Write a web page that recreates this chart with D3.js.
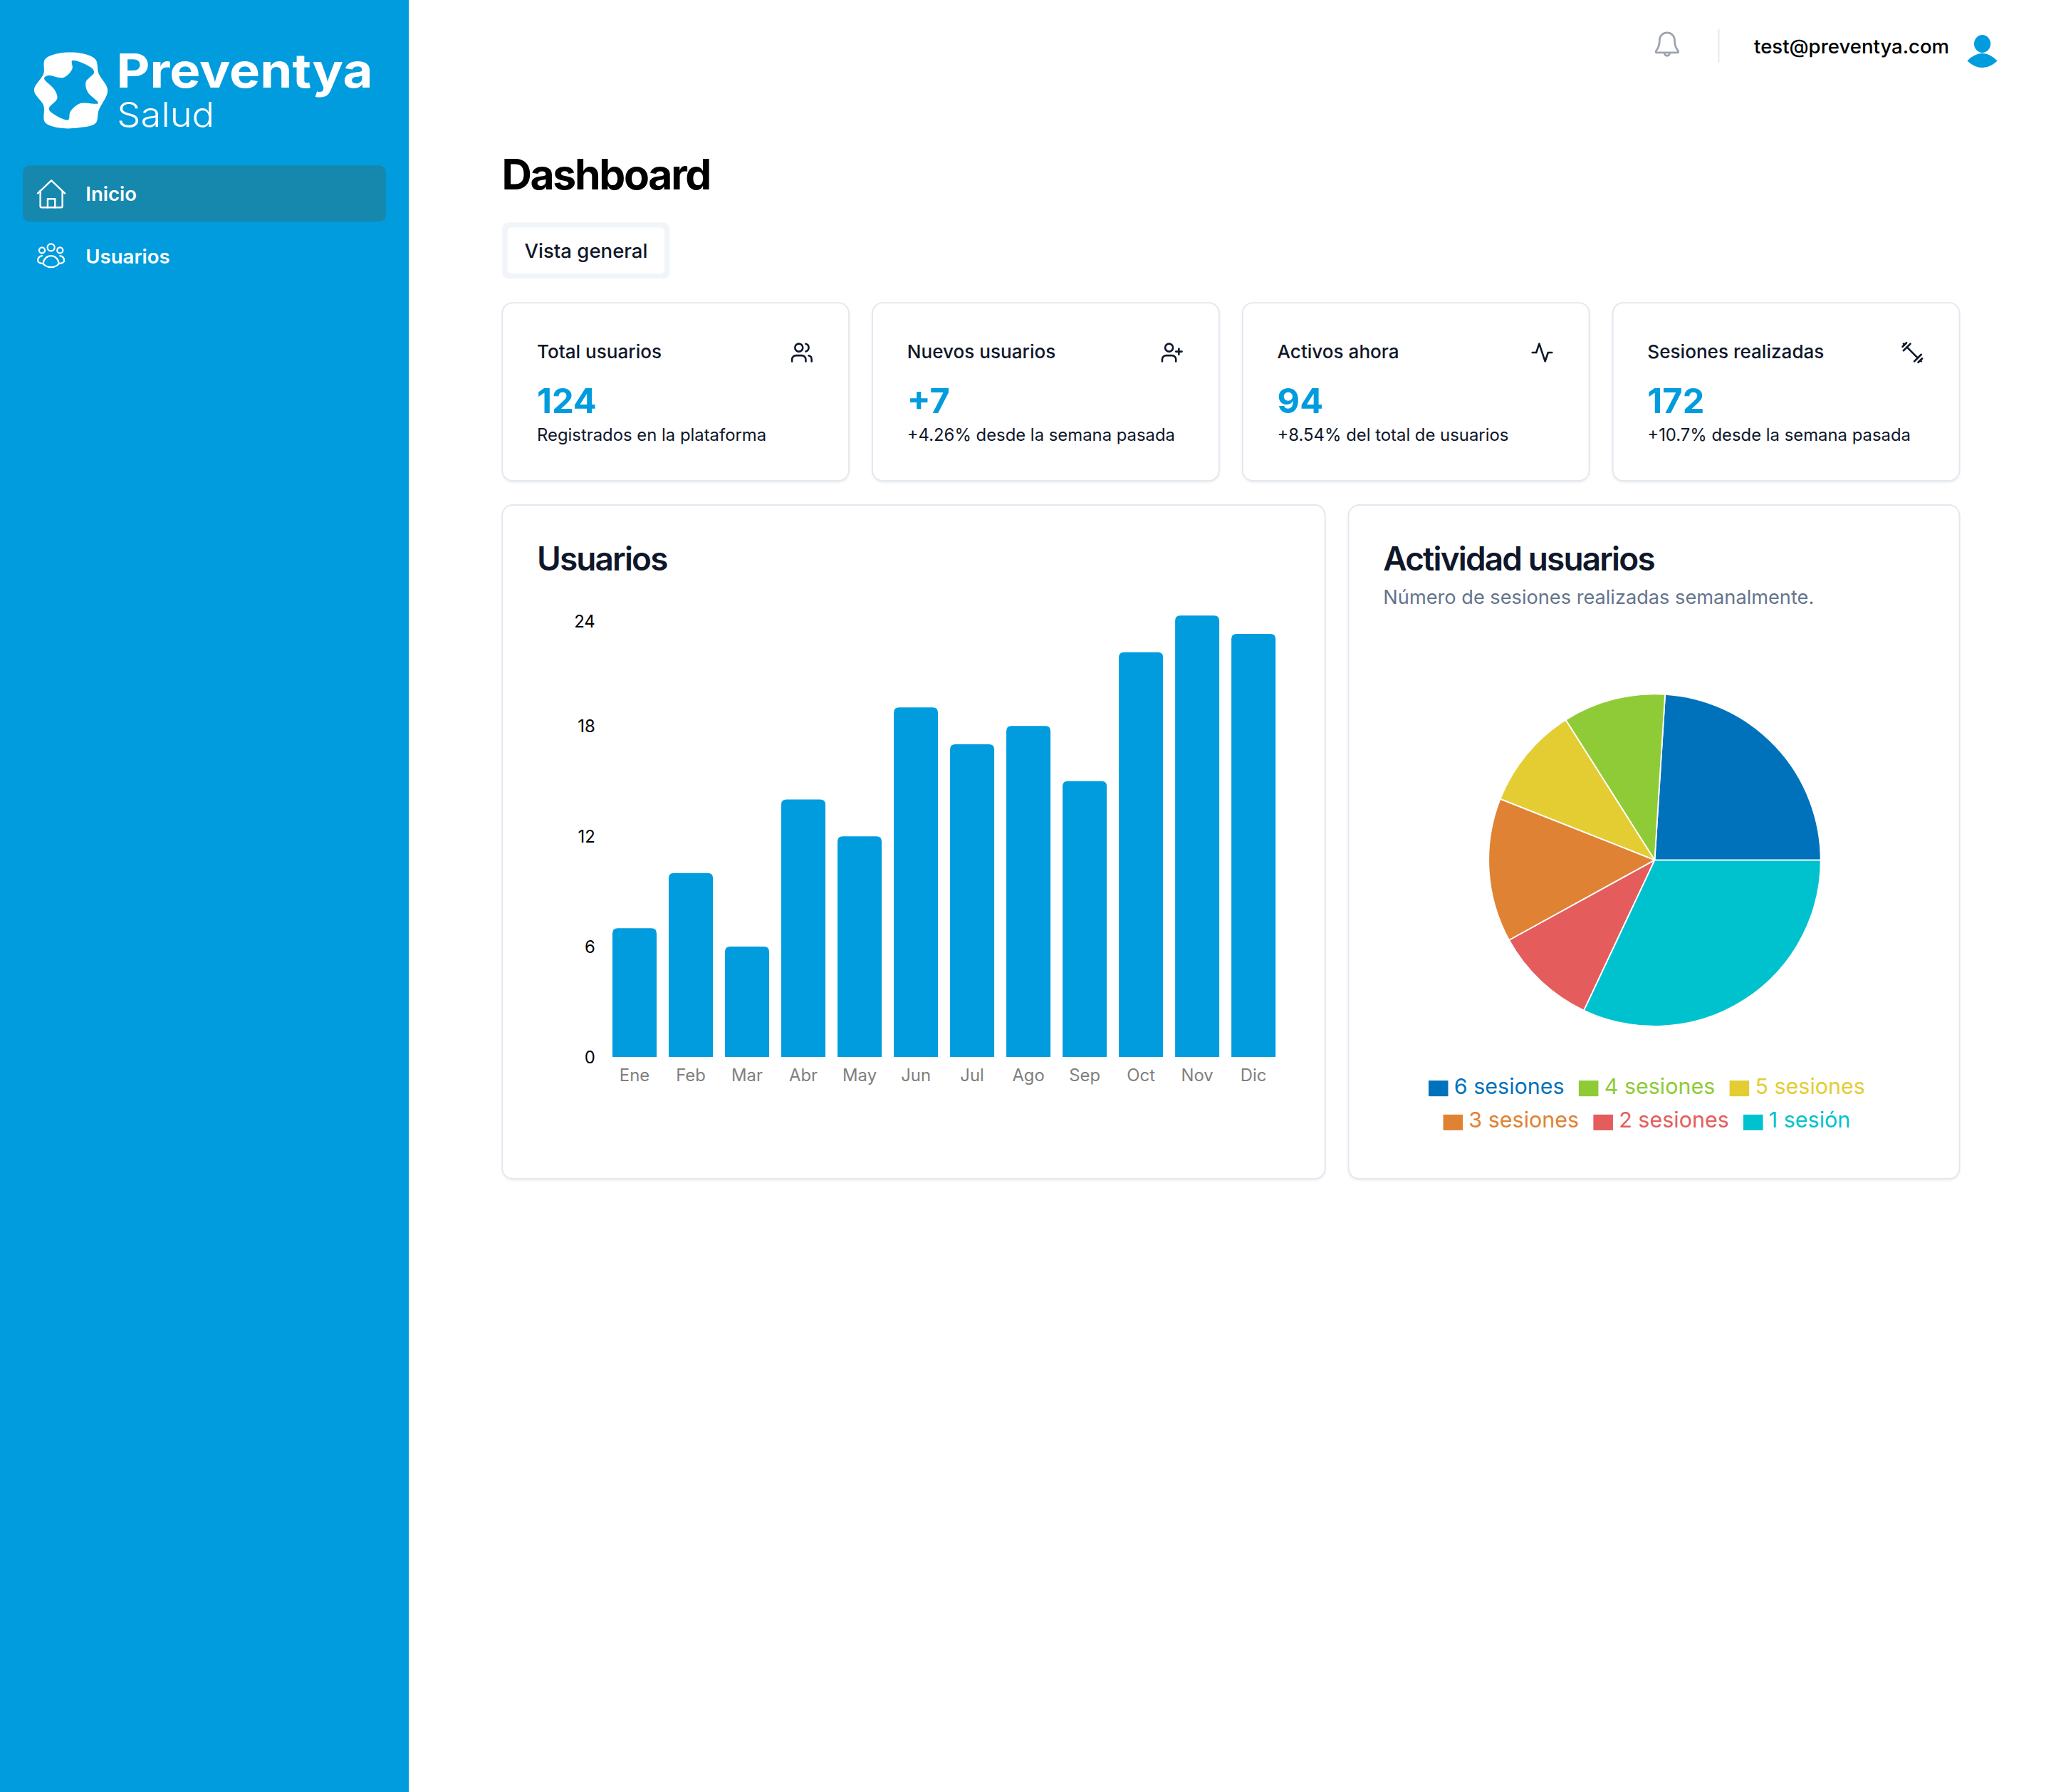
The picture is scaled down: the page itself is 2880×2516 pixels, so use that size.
<!DOCTYPE html>
<html lang="es">
<head>
<meta charset="utf-8">
<title>Preventya Salud - Dashboard</title>
<script src="https://cdn.jsdelivr.net/npm/d3@7"></script>
<style>
  html, body { margin: 0; padding: 0; background: #fff; }
  svg { display: block; }
  text { font-family: Inter, "Noto Sans", sans-serif; }
  .card { fill: #fff; stroke: #e2e8f0; stroke-width: 1; filter: drop-shadow(0 1px 1px rgba(15, 23, 42, .07)); }
  .icon { fill: none; stroke-linecap: round; stroke-linejoin: round; }
</style>
</head>
<body>
<script>
const months = ["Ene", "Feb", "Mar", "Abr", "May", "Jun", "Jul", "Ago", "Sep", "Oct", "Nov", "Dic"];
const usuarios = [7, 10, 6, 14, 12, 19, 17, 18, 15, 22, 24, 23];
const yTicks = [0, 6, 12, 18, 24];

const sesionLabels = ["6 sesiones", "4 sesiones", "5 sesiones", "3 sesiones", "2 sesiones", "1 sesión"];
const sesionValues = [12, 5, 5, 7, 5, 16];
const sesionColors = ["#0072bc", "#8fcb36", "#e3cd33", "#e08233", "#e55c5c", "#00c2ce"];

const cardTitles = ["Total usuarios", "Nuevos usuarios", "Activos ahora", "Sesiones realizadas"];
const cardValues = ["124", "+7", "94", "172"];
const cardNotes = [
  "Registrados en la plataforma",
  "+4.26% desde la semana pasada",
  "+8.54% del total de usuarios",
  "+10.7% desde la semana pasada"
];

const brand = "#009cde";
const ink = "#0f172a";

// lucide-style icons on a 24 box
const cardIcons = [
  ["M16 21v-2a4 4 0 0 0-4-4H6a4 4 0 0 0-4 4v2", "M9 3a4 4 0 1 0 0 8a4 4 0 1 0 0-8", "M22 21v-2a4 4 0 0 0-3-3.87", "M16 3.13a4 4 0 0 1 0 7.75"],
  ["M16 21v-2a4 4 0 0 0-4-4H6a4 4 0 0 0-4 4v2", "M9 3a4 4 0 1 0 0 8a4 4 0 1 0 0-8", "M19 8v6", "M22 11h-6"],
  ["M22 12h-4l-3 9L9 3l-3 9H2"],
  ["m6.5 6.5 11 11", "m21 21-1-1", "m3 3 1 1", "m18 22 4-4", "m2 6 4-4", "m3 10 7-7", "m14 21 7-7"]
];
const homeIcon = ["M1 11.5 12 1l11 10.5", "M3 9.5V22a1 1 0 0 0 1 1h16a1 1 0 0 0 1-1V9.5", "M9 23v-7h6v7"];
const groupIcon = [
  "M12 1.5a3 3 0 1 0 0 6a3 3 0 1 0 0-6",
  "M4.5 4.5a2.4 2.4 0 1 0 0 4.8a2.4 2.4 0 1 0 0-4.8",
  "M19.5 4.5a2.4 2.4 0 1 0 0 4.8a2.4 2.4 0 1 0 0-4.8",
  "M5.5 18c0-3.5 3-6.5 6.5-6.5s6.5 3 6.5 6.5c-1.5 2-4 3-6.5 3s-5-1-6.5-3z",
  "M4.5 11.5C2 12 1 13.5 1 15.5c0 1 1.5 2 4 2.5",
  "M19.5 11.5c2.5.5 3.5 2 3.5 4c0 1-1.5 2-4 2.5"
];
const bellIcon = ["M6 8a6 6 0 0 1 12 0c0 7 3 8 3 9c0 .6-.4 1-1 1H4c-.6 0-1-.4-1-1c0-1 3-2 3-9", "M10 18.5a2 2 0 0 0 4 0"];

const W = 2880, H = 2516;
const VW = 1568, VH = VW * H / W;

const svg = d3.select("body").append("svg")
  .attr("width", W).attr("height", H)
  .attr("viewBox", `0 0 ${VW} ${VH}`);

function drawIcon(parent, paths, x, y, size, color, sw) {
  const k = size / 24;
  parent.append("g")
    .attr("class", "icon")
    .attr("transform", `translate(${x},${y}) scale(${k})`)
    .attr("stroke", color)
    .attr("stroke-width", sw / k)
    .selectAll("path").data(paths).join("path")
    .attr("d", d => d);
}

// sidebar
svg.append("rect").attr("width", 312.5).attr("height", VH).attr("fill", brand);
svg.append("rect").attr("x", 17.5).attr("y", 126.5).attr("width", 277.5).attr("height", 43).attr("rx", 5).attr("fill", "#1688ae");

const logoOuter = [[165,250],[215,225],[300,225],[350,250],[362,310],[395,380],[362,465],[350,520],[290,538],[215,538],[165,515],[160,445],[125,380],[160,310]];
const logoInner = [[265,255],[335,285],[345,305],[315,345],[322,388],[360,435],[295,435],[258,470],[250,505],[185,470],[180,455],[210,415],[200,378],[162,330],[175,318],[232,327],[265,290]];
const blob = d3.line().curve(d3.curveCatmullRomClosed.alpha(0.5));
svg.append("path")
  .attr("transform", "scale(0.2084,0.1815)")
  .attr("fill", "#fff")
  .attr("fill-rule", "evenodd")
  .attr("d", blob(logoOuter) + blob(logoInner));

svg.append("text").attr("x", 89).attr("y", 67).attr("font-size", 36).attr("font-weight", 700)
  .attr("fill", "#fff").attr("textLength", 196).attr("lengthAdjust", "spacingAndGlyphs").text("Preventya");
svg.append("text").attr("x", 89.5).attr("y", 97).attr("font-size", 26).attr("font-weight", 300)
  .attr("fill", "#fff").attr("textLength", 74.5).attr("lengthAdjust", "spacingAndGlyphs").text("Salud");

drawIcon(svg, homeIcon, 28, 137, 22.5, "#fff", 1.3);
drawIcon(svg, groupIcon, 28, 185, 22, "#fff", 1.2);
svg.append("text").attr("x", 65.5).attr("y", 153.5).attr("font-size", 15).attr("font-weight", 600).attr("fill", "#fff").text("Inicio");
svg.append("text").attr("x", 65.5).attr("y", 201.5).attr("font-size", 15).attr("font-weight", 600).attr("fill", "#fff").text("Usuarios");

// top bar
drawIcon(svg, bellIcon, 1263, 23, 23, "#9ca3af", 1.5);
svg.append("line").attr("x1", 1314).attr("x2", 1314).attr("y1", 22).attr("y2", 48).attr("stroke", "#e5e7eb");
svg.append("text").attr("x", 1341).attr("y", 41).attr("font-size", 15).attr("font-weight", 500).attr("fill", "#000").text("test@preventya.com");
svg.append("ellipse").attr("cx", 1515.5).attr("cy", 33.5).attr("rx", 6.3).attr("ry", 6.8).attr("fill", brand);
svg.append("path").attr("d", "M1504 46.5Q1515.5 35 1527 46.5Q1515.5 57 1504 46.5Z").attr("fill", brand);

// heading and tab
svg.append("text").attr("x", 383.5).attr("y", 145).attr("font-size", 32).attr("font-weight", 700)
  .attr("letter-spacing", -1.25).attr("fill", "#000").text("Dashboard");
svg.append("rect").attr("x", 384).attr("y", 170).attr("width", 128).attr("height", 43).attr("rx", 5).attr("fill", "#f1f5f9");
svg.append("rect").attr("x", 388).attr("y", 174).attr("width", 120).attr("height", 35).attr("rx", 3).attr("fill", "#fff");
svg.append("text").attr("x", 401).attr("y", 197).attr("font-size", 15).attr("font-weight", 500).attr("fill", ink).text("Vista general");

// stat cards
const cardX = d3.scalePoint().domain(d3.range(4)).range([384, 1233]);
const cards = svg.selectAll("g.stat").data(cardTitles).join("g")
  .attr("class", "stat")
  .attr("transform", (d, i) => `translate(${cardX(i)},231.5)`);
cards.append("rect").attr("class", "card").attr("width", 265).attr("height", 136).attr("rx", 8);
cards.append("text").attr("x", 26.5).attr("y", 42.5).attr("font-size", 14.2).attr("font-weight", 500).attr("fill", ink).text(d => d);
cards.append("text").attr("x", 26.5).attr("y", 84.5).attr("font-size", 26.5).attr("font-weight", 700).attr("fill", brand).text((d, i) => cardValues[i]);
cards.append("text").attr("x", 26.5).attr("y", 105.5).attr("font-size", 13).attr("fill", ink).text((d, i) => cardNotes[i]);
cards.each(function (d, i) {
  drawIcon(d3.select(this), cardIcons[i], 220, 29, 18, ink, 1.4);
});

// bar chart card
svg.append("rect").attr("class", "card").attr("x", 384).attr("y", 386).attr("width", 629).attr("height", 515).attr("rx", 8);
svg.append("text").attr("x", 410.5).attr("y", 436).attr("font-size", 25).attr("font-weight", 600)
  .attr("letter-spacing", -1).attr("fill", ink).text("Usuarios");

const x = d3.scaleBand().domain(months).range([463.6, 979.8]).paddingInner(0.215).paddingOuter(0.1075);
const y = d3.scaleLinear().domain([0, 24]).range([808, 470.5]);

svg.append("g").selectAll("path").data(usuarios).join("path")
  .attr("fill", brand)
  .attr("d", (d, i) => {
    const x0 = x(months[i]), w = x.bandwidth(), y0 = y(d), r = 4;
    return `M${x0} ${y(0)}V${y0 + r}Q${x0} ${y0} ${x0 + r} ${y0}H${x0 + w - r}Q${x0 + w} ${y0} ${x0 + w} ${y0 + r}V${y(0)}Z`;
  });

const yAxis = svg.append("g").attr("transform", "translate(463,0)")
  .call(d3.axisLeft(y).tickValues(yTicks).tickSize(0).tickPadding(8));
yAxis.select(".domain").remove();
yAxis.selectAll("text").attr("font-size", 13).attr("font-family", "Inter").attr("fill", "#000");
// the top label is pushed down so it stays inside the plot
yAxis.selectAll("text").filter(d => d === 24).attr("y", 4.5);

const xAxis = svg.append("g").attr("transform", "translate(0,808)")
  .call(d3.axisBottom(x).tickSize(0).tickPadding(9));
xAxis.select(".domain").remove();
xAxis.selectAll("text").attr("font-size", 13).attr("font-family", "Inter").attr("fill", "#808080");

// pie card
svg.append("rect").attr("class", "card").attr("x", 1031).attr("y", 386).attr("width", 467).attr("height", 515).attr("rx", 8);
svg.append("text").attr("x", 1057.5).attr("y", 436).attr("font-size", 25).attr("font-weight", 600)
  .attr("letter-spacing", -1).attr("fill", ink).text("Actividad usuarios");
svg.append("text").attr("x", 1057.5).attr("y", 461.5).attr("font-size", 14.8).attr("fill", "#64748b")
  .text("Número de sesiones realizadas semanalmente.");

// slices run counter-clockwise from 3 o'clock
const pie = d3.pie().sort(null).startAngle(Math.PI / 2).endAngle(Math.PI / 2 - 2 * Math.PI);
const arc = d3.arc().innerRadius(0).outerRadius(127);
svg.append("g").attr("transform", "translate(1265,657.5)")
  .selectAll("path").data(pie(sesionValues)).join("path")
  .attr("d", arc)
  .attr("fill", (d, i) => sesionColors[i])
  .attr("stroke", "#fff")
  .attr("stroke-width", 1);

// legend, two centred rows
const legendRows = [[0, 1, 2], [3, 4, 5]];
const legendBase = [836, 862];
legendRows.forEach((row, r) => {
  const g = svg.append("g");
  let cursor = 0;
  row.forEach(i => {
    g.append("rect").attr("x", cursor).attr("y", legendBase[r] - 10).attr("width", 15).attr("height", 12).attr("fill", sesionColors[i]);
    const t = g.append("text").attr("x", cursor + 19.5).attr("y", legendBase[r])
      .attr("font-size", 16.6).attr("fill", sesionColors[i]).text(sesionLabels[i]);
    cursor += 19.5 + t.node().getComputedTextLength() + 11;
  });
  g.attr("transform", `translate(${1259 - (cursor - 11) / 2},0)`);
});
</script>
</body>
</html>
